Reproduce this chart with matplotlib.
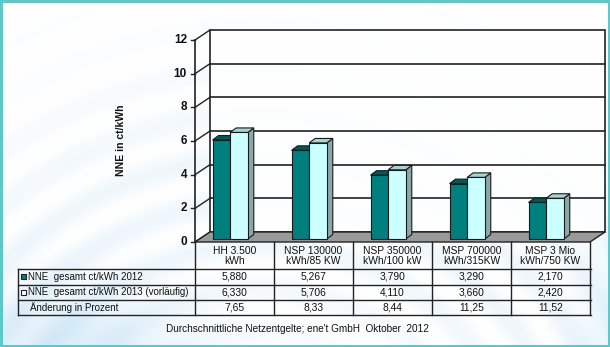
import numpy as np
import matplotlib
matplotlib.use("Agg")
import matplotlib.pyplot as plt
from matplotlib.patches import Polygon, Rectangle
from matplotlib.lines import Line2D
import matplotlib.transforms as mtransforms

plt.rcParams['font.family'] = ['Liberation Sans', 'DejaVu Sans']

# ---- data ----
categories = ["HH 3.500\nkWh", "NSP 130000\nkWh/85 KW", "NSP 350000\nkWh/100 kW",
              "MSP 700000\nkWh/315KW", "MSP 3 Mio\nkWh/750 KW"]
nne_2012 = [5.880, 5.267, 3.790, 3.290, 2.170]
nne_2013 = [6.330, 5.706, 4.110, 3.660, 2.420]
change_pct = [7.65, 8.33, 8.44, 11.25, 11.52]
series_names = ["NNE  gesamt ct/kWh 2012", "NNE  gesamt ct/kWh 2013 (vorläufig)",
                "Änderung in Prozent"]
y_ticks = [0, 2, 4, 6, 8, 10, 12]
y_label = "NNE in ct/kWh"
footer = "Durchschnittliche Netzentgelte; ene't GmbH  Oktober  2012"

W, H = 610, 347
fig = plt.figure(figsize=(W / 100, H / 100), dpi=100)


def fx(px):
    return px / W


def fy(py):
    return 1 - py / H


# ---- soft rippled background ----
bg_ax = fig.add_axes([0, 0, 1, 1], zorder=-10)
yy, xx = np.mgrid[0:H, 0:W].astype(float)
r = np.hypot(xx - 260, yy - 520)
ripple = (0.5 + 0.5 * np.sin(r / 7.0)) * np.exp(-((r - 330) / 150) ** 2)
blob = np.exp(-(((xx - 70) / 110) ** 2 + ((yy - 345) / 60) ** 2))
side = np.exp(-((xx - 610) / 40) ** 2) * np.clip((yy - 120) / 227, 0, 1)
b = np.clip(0.22 * ripple + 0.45 * blob + 0.25 * side, 0, 1)
blue = np.array([0.72, 0.86, 0.95])
img = (1 - b[..., None]) * 1.0 + b[..., None] * blue
bg_ax.imshow(img, extent=[0, W, H, 0], aspect='auto')
bg_ax.set_xlim(0, W)
bg_ax.set_ylim(H, 0)
bg_ax.axis('off')

# ---- 3D chart area ----
x_left, x_right, y_zero, y_top = 195, 590, 242, 40
ax = fig.add_axes([fx(x_left), fy(y_zero), (x_right - x_left) / W, (y_zero - y_top) / H])
n = len(categories)
ax.set_xlim(0, n)
ax.set_ylim(0, 12)
ax.axis('off')

px_x = (x_right - x_left) / n
px_y = (y_zero - y_top) / 12.0


def off(dx, dy):
    return dx / px_x, dy / px_y


wx, wy = off(15, 10)      # depth of the walls
bx, by = off(4.5, 3)      # bar placement inside the depth
dx, dy = off(6, 4.5)      # bar depth

kw = dict(clip_on=False)
# back wall
ax.add_patch(Rectangle((wx, wy), n, 12, facecolor='white', alpha=0.8,
                       edgecolor='none', zorder=1, **kw))
ax.add_patch(Rectangle((wx, wy), n, 12, facecolor='none',
                       edgecolor='#222222', lw=1.2, zorder=2, **kw))
for t in y_ticks[1:-1]:
    ax.add_line(Line2D([wx, wx + n], [t + wy, t + wy], color='#222222', lw=1.2, zorder=2, **kw))
# side wall lines
for t in y_ticks:
    ax.add_line(Line2D([0, wx], [t, t + wy], color='#222222', lw=1.0, zorder=2, **kw))
ax.add_line(Line2D([0, 0], [0, 12], color='#222222', lw=1.2, zorder=2, **kw))
# floor
ax.add_patch(Polygon([(0, 0), (n, 0), (n + wx, wy), (wx, wy)], closed=True,
                     facecolor='#9a9a9a', edgecolor='#222222', lw=1.0, zorder=3, **kw))

# bars
bar_w = 0.223
group_off = 0.165
series = [(nne_2012, '#007f7f', '#005858', '#004c4c'),
          (nne_2013, '#ccffff', '#a9d3d3', '#8aa8a8')]
for i in range(n):
    for s, (vals, front, top, sidec) in enumerate(series):
        v = vals[i]
        x0 = i + group_off + s * bar_w + bx
        x1 = x0 + bar_w
        y0 = by
        y1 = v + by
        ec = '#1a1a1a'
        ax.add_patch(Polygon([(x1, y0), (x1 + dx, y0 + dy), (x1 + dx, y1 + dy), (x1, y1)],
                             closed=True, facecolor=sidec, edgecolor=ec, lw=0.8,
                             zorder=4 + s, **kw))
        ax.add_patch(Polygon([(x0, y1), (x1, y1), (x1 + dx, y1 + dy), (x0 + dx, y1 + dy)],
                             closed=True, facecolor=top, edgecolor=ec, lw=0.8,
                             zorder=4 + s, **kw))
        ax.add_patch(Rectangle((x0, y0), bar_w, v, facecolor=front, edgecolor=ec,
                               lw=0.8, zorder=4 + s, **kw))

# y ticks and labels
tick_tr = mtransforms.blended_transform_factory(fig.transFigure, ax.transData)
for t in y_ticks:
    fig.add_artist(Line2D([fx(191), fx(195)], [t, t], transform=tick_tr,
                          color='#222222', lw=1.0))
    fig.text(fx(187), t, str(t), transform=tick_tr, ha='right', va='center',
             fontsize=8.5, fontweight='bold', color='#111111')

fig.text(fx(121), fy(140), y_label, rotation=90, ha='center', va='center',
         fontsize=7.5, fontweight='bold', color='#111111')

# ---- data table ----
col_tr = mtransforms.blended_transform_factory(ax.transData, fig.transFigure)
row_lines = [268.7, 284.7, 300.0, 315.3]
tbl_left, tbl_right = 18, 591
lc = '#222222'
for yl in row_lines:
    fig.add_artist(Line2D([fx(tbl_left), fx(tbl_right)], [fy(yl), fy(yl)], color=lc, lw=1.0))
fig.add_artist(Line2D([fx(tbl_left), fx(tbl_left)], [fy(row_lines[0]), fy(row_lines[-1])],
                      color=lc, lw=1.0))
for k in range(n + 1):
    fig.add_artist(Line2D([k, k], [fy(y_zero), fy(row_lines[-1])], transform=col_tr,
                          color=lc, lw=1.0))

for i, cat in enumerate(categories):
    fig.text(i + 0.5, fy(256), cat, transform=col_tr, ha='center', va='center',
             fontsize=7.4, linespacing=1.0, color='#111111')

row_vals = [[f"{v:.3f}".replace('.', ',') for v in nne_2012],
            [f"{v:.3f}".replace('.', ',') for v in nne_2013],
            [f"{v:.2f}".replace('.', ',') for v in change_pct]]
for r_i, vals in enumerate(row_vals):
    yc = (row_lines[r_i] + row_lines[r_i + 1]) / 2
    for i, txt in enumerate(vals):
        fig.text(i + 0.5, fy(yc), txt, transform=col_tr, ha='center', va='center',
                 fontsize=7.4, color='#111111')
    fig.text(fx(28.5 if r_i < 2 else 30.5), fy(yc), series_names[r_i], ha='left', va='center',
             fontsize=7.0, color='#111111')

# legend keys
key_colors = ['#007f7f', 'white']
for r_i, kc in enumerate(key_colors):
    yc = (row_lines[r_i] + row_lines[r_i + 1]) / 2
    fig.add_artist(Rectangle((fx(21), fy(yc + 2.7)), 5.4 / W, 5.4 / H, facecolor=kc,
                             edgecolor='#222222', lw=0.8, transform=fig.transFigure))

fig.text(fx(297), fy(329), footer, ha='center', va='center', fontsize=7.2, color='#111111')

# frame
fig.add_artist(Rectangle((0.0015, 0.003), 0.997, 0.994, facecolor='none',
                         edgecolor='#5cc8c8', lw=2.2, transform=fig.transFigure))

fig.savefig("out.png", dpi=100)
